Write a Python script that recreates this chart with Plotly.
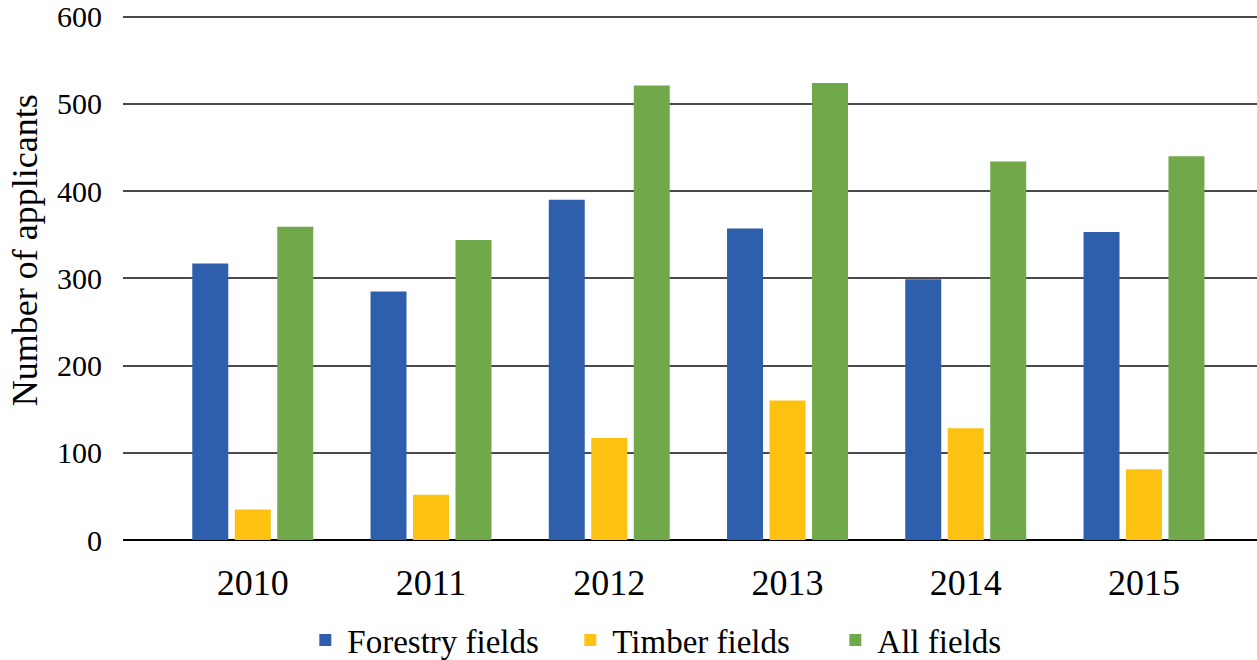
import plotly.graph_objects as go

years = ["2010", "2011", "2012", "2013", "2014", "2015"]
forestry = [317, 285, 390, 357, 299, 353]
timber = [35, 52, 117, 160, 128, 81]
all_fields = [359, 344, 521, 524, 434, 440]

series_names = ["Forestry fields", "Timber fields", "All fields"]
colors = ["#2E5FAD", "#FCC111", "#71A94A"]
y_title = "Number of applicants"

FONT = "Liberation Serif, serif"

fig = go.Figure()
for name, vals, col in zip(series_names, [forestry, timber, all_fields], colors):
    fig.add_trace(go.Bar(x=years, y=vals, name=name, marker=dict(color=col, line=dict(width=0))))

fig.add_annotation(text=y_title, textangle=-90, xref="paper", yref="paper",
                   x=-0.0864, y=0.551, xanchor="center", yanchor="middle",
                   showarrow=False, font=dict(size=36, family=FONT, color="black"))

fig.update_layout(
    width=1257, height=660,
    margin=dict(l=123, r=0, t=14, b=120, autoexpand=False),
    paper_bgcolor="white", plot_bgcolor="white",
    barmode="group", bargap=0.285, bargroupgap=0.153,
    font=dict(family=FONT, color="black", size=30),
    showlegend=True,
    legend=dict(orientation="h", x=0.159, xanchor="left", y=-0.19, yanchor="middle",
                font=dict(size=33, family=FONT), itemwidth=34, traceorder="normal",
                entrywidth=216),
    xaxis=dict(type="category", range=[-0.728, 5.634], showgrid=False, showline=False,
               ticks="", tickfont=dict(size=36, family=FONT), ticklabelstandoff=18),
    yaxis=dict(range=[0, 603], tickvals=[0, 100, 200, 300, 400, 500, 600],
               showgrid=True, gridcolor="#4a4a4a", gridwidth=1.6,
               zeroline=True, zerolinecolor="black", zerolinewidth=2, showline=False,
               ticks="", tickfont=dict(size=30, family=FONT), ticklabelstandoff=20),
)

fig.write_html("out.html", config={"displayModeBar": False},
               post_script="document.body.style.margin='0';")
